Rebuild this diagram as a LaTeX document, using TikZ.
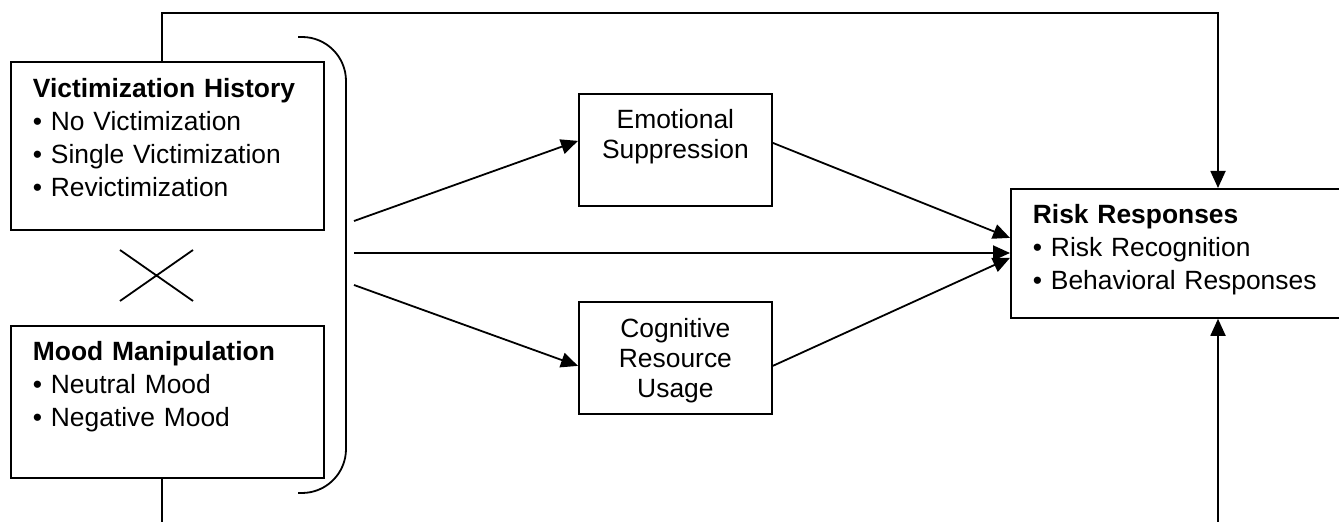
\documentclass[tikz,border=0pt]{standalone}
\usepackage{fontspec}
\setmainfont{Liberation Sans}
\usetikzlibrary{arrows.meta}

\begin{document}
\begin{tikzpicture}[x=0.5pt,y=-0.5pt,line width=0.9pt,
    sidebox/.style={draw, anchor=north west, align=left, inner xsep=11pt, inner ysep=0pt,
      text width=#1, text height=17.5pt, font=\fontsize{13.2}{16.5}\selectfont},
    midbox/.style={draw, anchor=north west, align=center, inner xsep=4pt, inner ysep=0pt,
      text width=88.5pt, text height=17.5pt, font=\fontsize{13.2}{15}\selectfont},
    arr/.style={-{Triangle[length=8.5pt,width=7.5pt]}}]
  \useasboundingbox (0,0) rectangle (1339,522);

  % Factors
  \node[sidebox=134.5pt, text depth=66pt, text height=18pt] (vict) at (10,61)
    {\textbf{Victimization History}\\ \textbullet\ No Victimization\\
     \textbullet\ Single Victimization\\ \textbullet\ Revictimization};
  \node[sidebox=134.5pt, text depth=58.5pt] (mood) at (10,325)
    {\textbf{Mood Manipulation}\\ \textbullet\ Neutral Mood\\ \textbullet\ Negative Mood};

  % Interaction cross and bracket
  \draw (120,250) -- (193,301) (193,250) -- (120,301);
  \draw[rounded corners=22pt] (298,37) -- (346,37) -- (346,493) -- (298,493);

  % Mediators and outcome
  \node[midbox, text depth=38.5pt] (emo) at (578,93) {Emotional\\ Suppression};
  \node[midbox, text depth=38pt, text height=18pt] (cog) at (578,301) {Cognitive\\ Resource\\ Usage};
  \node[sidebox=144pt, text depth=47pt] (risk) at (1010,188)
    {\textbf{Risk Responses}\\ \textbullet\ Risk Recognition\\ \textbullet\ Behavioral Responses};

  % Free ends
  \coordinate (a1) at (354,221);
  \coordinate (a2) at (354,253);
  \coordinate (a3) at (354,285);
  \coordinate (tl) at (162,13);
  \coordinate (tr) at (1218,13);
  \coordinate (bl) at (162,522);
  \coordinate (br) at (1218,522);

  % Paths
  \draw[arr] (a1) -- ([yshift=4.5pt]emo.west);
  \draw[arr] (a2) -- (a2 -| risk.west);
  \draw[arr] (a3) -- ([yshift=-4pt]cog.west);
  \draw[arr] ([yshift=3.5pt]emo.east) -- ([yshift=7.75pt]risk.west);
  \draw[arr] ([yshift=-4pt]cog.east) -- ([yshift=-2.25pt]risk.west);

  % Direct effects
  \draw[arr] (vict.north -| tl) -- (tl) -- (tr) -- (risk.north -| tr);
  \draw (mood.south -| bl) -- (bl);
  \draw[arr] (br) -- (risk.south -| br);
\end{tikzpicture}
\end{document}
